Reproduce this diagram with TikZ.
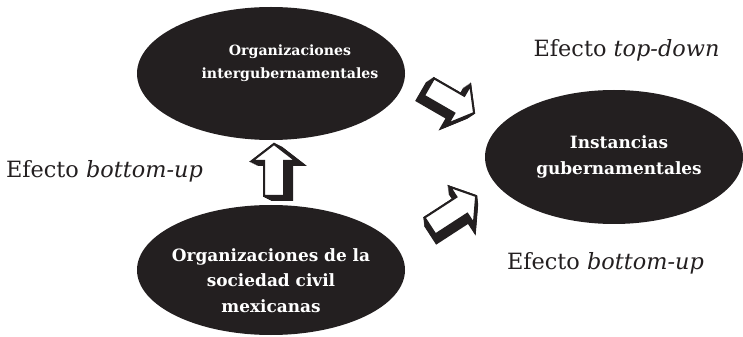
\documentclass[tikz,border=0pt]{standalone}
\usepackage{fontspec}
\setmainfont{DejaVu Serif}
\usetikzlibrary{shapes.geometric}
\definecolor{ink}{HTML}{231F20}
\tikzset{
  bubble/.style={ellipse, fill=ink, draw=none, inner sep=0pt},
  bubbletext/.style={text=white, font=\fontsize{12.7}{19.1}\selectfont\bfseries, align=center, inner sep=0pt},
  smallbubbletext/.style={bubbletext, font=\fontsize{10.6}{17.5}\selectfont\bfseries},
  effect/.style={text=ink, font=\fontsize{16.8}{20}\selectfont, inner sep=0pt, anchor=base},
  arrowface/.style={draw=ink, fill=white, line width=1.5pt, line join=miter},
  arrowdepth/.style={draw=ink, fill=ink, line width=1.5pt, line join=miter},
  blockarrow/.pic={
    \foreach \k in {0,0.125,...,1}{
      \path[arrowdepth, shift={(-4*\k,-8*\k)}]
        (0,-10) -- ({#1-17},-10) -- ({#1-17},-22) -- (#1,0) -- ({#1-17},22) -- ({#1-17},10) -- (0,10) -- cycle;
    }
    \path[arrowface]
      (0,-10) -- ({#1-17},-10) -- ({#1-17},-22) -- (#1,0) -- ({#1-17},22) -- ({#1-17},10) -- (0,10) -- cycle;
  }
}
\begin{document}
\begin{tikzpicture}[x=0.75pt, y=0.75pt]
\useasboundingbox (0,0) rectangle (743,336);
% ellipses
\node[bubble, minimum width=201pt, minimum height=99.75pt] (igo) at (271,262.5) {};
\node[bubble, minimum width=193.5pt, minimum height=100.5pt] (gov) at (614,179) {};
\node[bubble, minimum width=201pt, minimum height=97.5pt] (osc) at (271,66) {};
% ellipse texts
\node[smallbubbletext] (igot) at (290,273) {Organizaciones\\intergubernamentales};
\node[bubbletext] (govt) at (619,179) {Instancias\\gubernamentales};
\node[bubbletext] (osct) at (271,55.5) {Organizaciones de la\\sociedad civil\\mexicanas};
% block arrows
\pic (aup) at (274,140) [rotate=90] {blockarrow=52};
\pic (atop) at (429,249) [rotate=-30] {blockarrow=52};
\pic (abot) at (430,110) [rotate=33] {blockarrow=55};
% effect labels
\node[effect] (ltd) at (626.5,279.3) {Efecto \textit{top-down}};
\node[effect] (lbu1) at (104.5,158.3) {Efecto \textit{bottom-up}};
\node[effect] (lbu2) at (605.5,66) {Efecto \textit{bottom-up}};
\end{tikzpicture}
\end{document}
